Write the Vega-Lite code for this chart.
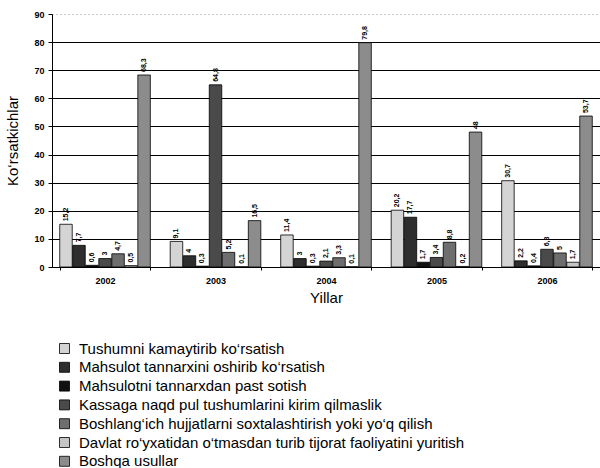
{
  "$schema": "https://vega.github.io/schema/vega-lite/v6.json",
  "width": 548,
  "height": 253,
  "autosize": {"type": "none"},
  "padding": {"left": 52, "top": 14, "right": 0, "bottom": 201},
  "background": "white",
  "config": {
    "font": "Liberation Sans",
    "view": {"stroke": null}
  },
  "data": {
    "values": [
      {"year": "2002", "series": "Tushumni kamaytirib ko‘rsatish", "value": 15.2},
      {"year": "2002", "series": "Mahsulot tannarxini oshirib ko‘rsatish", "value": 7.7},
      {"year": "2002", "series": "Mahsulotni tannarxdan past sotish", "value": 0.6},
      {"year": "2002", "series": "Kassaga naqd pul tushumlarini kirim qilmaslik", "value": 3},
      {"year": "2002", "series": "Boshlang‘ich hujjatlarni soxtalashtirish yoki yo‘q qilish", "value": 4.7},
      {"year": "2002", "series": "Davlat ro‘yxatidan o‘tmasdan turib tijorat faoliyatini yuritish", "value": 0.5},
      {"year": "2002", "series": "Boshqa usullar", "value": 68.3},
      {"year": "2003", "series": "Tushumni kamaytirib ko‘rsatish", "value": 9.1},
      {"year": "2003", "series": "Mahsulot tannarxini oshirib ko‘rsatish", "value": 4},
      {"year": "2003", "series": "Mahsulotni tannarxdan past sotish", "value": 0.3},
      {"year": "2003", "series": "Kassaga naqd pul tushumlarini kirim qilmaslik", "value": 64.8},
      {"year": "2003", "series": "Boshlang‘ich hujjatlarni soxtalashtirish yoki yo‘q qilish", "value": 5.2},
      {"year": "2003", "series": "Davlat ro‘yxatidan o‘tmasdan turib tijorat faoliyatini yuritish", "value": 0.1},
      {"year": "2003", "series": "Boshqa usullar", "value": 16.5},
      {"year": "2004", "series": "Tushumni kamaytirib ko‘rsatish", "value": 11.4},
      {"year": "2004", "series": "Mahsulot tannarxini oshirib ko‘rsatish", "value": 3},
      {"year": "2004", "series": "Mahsulotni tannarxdan past sotish", "value": 0.3},
      {"year": "2004", "series": "Kassaga naqd pul tushumlarini kirim qilmaslik", "value": 2.1},
      {"year": "2004", "series": "Boshlang‘ich hujjatlarni soxtalashtirish yoki yo‘q qilish", "value": 3.3},
      {"year": "2004", "series": "Davlat ro‘yxatidan o‘tmasdan turib tijorat faoliyatini yuritish", "value": 0.1},
      {"year": "2004", "series": "Boshqa usullar", "value": 79.8},
      {"year": "2005", "series": "Tushumni kamaytirib ko‘rsatish", "value": 20.2},
      {"year": "2005", "series": "Mahsulot tannarxini oshirib ko‘rsatish", "value": 17.7},
      {"year": "2005", "series": "Mahsulotni tannarxdan past sotish", "value": 1.7},
      {"year": "2005", "series": "Kassaga naqd pul tushumlarini kirim qilmaslik", "value": 3.4},
      {"year": "2005", "series": "Boshlang‘ich hujjatlarni soxtalashtirish yoki yo‘q qilish", "value": 8.8},
      {"year": "2005", "series": "Davlat ro‘yxatidan o‘tmasdan turib tijorat faoliyatini yuritish", "value": 0.2},
      {"year": "2005", "series": "Boshqa usullar", "value": 48},
      {"year": "2006", "series": "Tushumni kamaytirib ko‘rsatish", "value": 30.7},
      {"year": "2006", "series": "Mahsulot tannarxini oshirib ko‘rsatish", "value": 2.2},
      {"year": "2006", "series": "Mahsulotni tannarxdan past sotish", "value": 0.4},
      {"year": "2006", "series": "Kassaga naqd pul tushumlarini kirim qilmaslik", "value": 6.3},
      {"year": "2006", "series": "Boshlang‘ich hujjatlarni soxtalashtirish yoki yo‘q qilish", "value": 5},
      {"year": "2006", "series": "Davlat ro‘yxatidan o‘tmasdan turib tijorat faoliyatini yuritish", "value": 1.7},
      {"year": "2006", "series": "Boshqa usullar", "value": 53.7}
    ]
  },
  "transform": [
    {"calculate": "replace(toString(datum.value), '.', ',')", "as": "label"}
  ],
  "encoding": {
    "x": {
      "field": "year", "type": "nominal",
      "scale": {"paddingInner": 0.18, "paddingOuter": 0.07},
      "axis": {
        "title": "Yillar", "titleFontSize": 15, "titleFontWeight": "normal", "titleColor": "#000", "titlePadding": 5,
        "labelAngle": 0, "labelFontSize": 9, "labelFontWeight": "bold", "labelColor": "#000", "labelPadding": 6,
        "tickBand": "extent", "tickSize": 3, "tickColor": "#000", "domainColor": "#000", "grid": false
      }
    },
    "xOffset": {
      "field": "series", "type": "nominal", "sort": null,
      "scale": {"paddingInner": 0.04}
    },
    "y": {
      "field": "value", "type": "quantitative",
      "scale": {"domain": [0, 90], "nice": false},
      "axis": {
        "title": "Ko‘rsatkichlar", "titleFontSize": 15, "titleFontWeight": "normal", "titleColor": "#000", "titlePadding": 13,
        "values": [0, 10, 20, 30, 40, 50, 60, 70, 80, 90],
        "labelFontSize": 9, "labelFontWeight": "bold", "labelColor": "#000", "labelPadding": 4,
        "tickSize": 4, "tickColor": "#000", "domainColor": "#000",
        "grid": true,
        "gridColor": {"condition": {"test": "datum.value == 90", "value": "#999"}, "value": "#000"},
        "gridDash": {"condition": {"test": "datum.value == 90", "value": [1, 3]}, "value": []},
        "gridWidth": 1
      }
    }
  },
  "layer": [
    {
      "mark": {"type": "bar", "stroke": "#000", "strokeWidth": 0.8},
      "encoding": {
        "color": {
          "field": "series", "type": "nominal", "sort": null,
          "scale": {
            "domain": [
              "Tushumni kamaytirib ko‘rsatish",
              "Mahsulot tannarxini oshirib ko‘rsatish",
              "Mahsulotni tannarxdan past sotish",
              "Kassaga naqd pul tushumlarini kirim qilmaslik",
              "Boshlang‘ich hujjatlarni soxtalashtirish yoki yo‘q qilish",
              "Davlat ro‘yxatidan o‘tmasdan turib tijorat faoliyatini yuritish",
              "Boshqa usullar"
            ],
            "range": ["#d4d4d4", "#2e2e2e", "#111111", "#4a4a4a", "#6e6e6e", "#c4c4c4", "#8c8c8c"]
          },
          "legend": {
            "title": null, "orient": "none", "legendX": 5, "legendY": 327,
            "direction": "vertical", "symbolType": "square", "symbolSize": 100,
            "symbolStrokeColor": "#000", "symbolStrokeWidth": 0.8,
            "labelFontSize": 15, "labelColor": "#000", "labelOffset": 7, "labelLimit": 600,
            "rowPadding": 2.8
          }
        }
      }
    },
    {
      "mark": {"type": "text", "angle": 270, "align": "left", "baseline": "middle", "dx": 3, "fontSize": 7, "fontWeight": "bold", "color": "#000"},
      "encoding": {
        "text": {"field": "label"}
      }
    }
  ]
}
